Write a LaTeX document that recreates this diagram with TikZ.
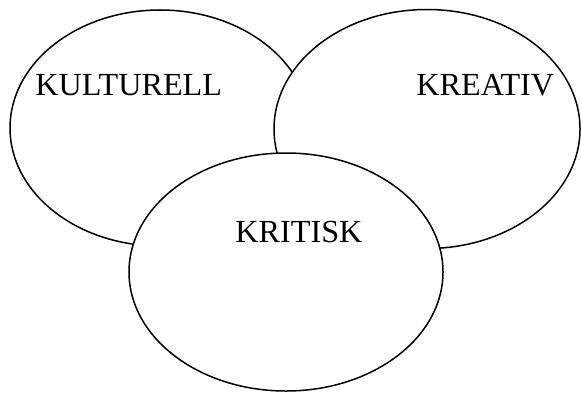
\documentclass[tikz,border=0pt]{standalone}
\usepackage{fontspec}
\setmainfont{Liberation Serif}
\begin{document}
\begin{tikzpicture}[x=0.5pt,y=0.5pt,
    circ/.style={draw=black, fill=white, line width=0.75pt},
    lbl/.style={anchor=base west, inner sep=0pt, font=\fontsize{16.1}{18}\selectfont}]
            \useasboundingbox (0,0) rectangle (581,392);
            % Define centres
            \coordinate (Ku) at (160,264);
            \coordinate (Kr) at (427,263);
            \coordinate (Kt) at (286,120);

            % Draw ellipses, later ones on top
            \path[circ] (Ku) ellipse (150 and 118);
            \path[circ] (Kr) ellipse (153 and 119.5);
            \path[circ] (Kt) ellipse (157 and 119);

            % Labels
            \node[lbl] (kulturell) at (35,297) {KULTURELL};
            \node[lbl] (kreativ) at (416,297) {KREATIV};
            \node[lbl] (kritisk) at (235,150) {KRITISK};
        \end{tikzpicture}
\end{document}
